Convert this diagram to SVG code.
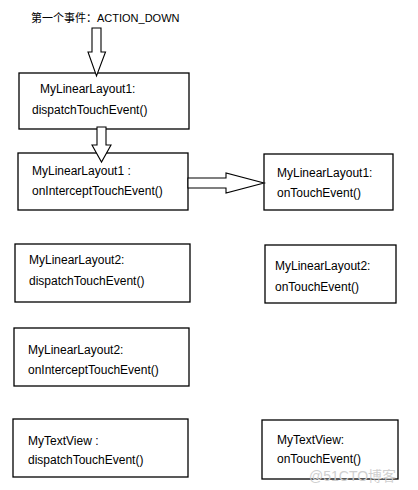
<svg xmlns="http://www.w3.org/2000/svg" width="418" height="490" viewBox="0 0 418 490">
<style>
.box{fill:#fff;stroke:#000;stroke-width:1.3}
.t{font-family:"Liberation Sans","Noto Sans CJK SC",sans-serif;font-size:12px;fill:#000}
.arr{fill:#fff;stroke:#000;stroke-width:1.1;stroke-linejoin:miter}
.wm{font-family:"Liberation Sans","Noto Sans CJK SC",sans-serif;font-size:14px;fill:#d0d0d0}
</style>
<rect width="418" height="490" fill="#fff"/>
<text class="t" x="31" y="22" style="font-size:11px">第一个事件：ACTION_DOWN</text>
<g id="n1"><rect class="box" x="19" y="73" width="170" height="56"/><text class="t" x="40" y="93">MyLinearLayout1:</text><text class="t" x="32" y="114">dispatchTouchEvent()</text></g>
<g id="n2"><rect class="box" x="18" y="153" width="170" height="57"/><text class="t" x="32" y="175">MyLinearLayout1 :</text><text class="t" x="32" y="195">onInterceptTouchEvent()</text></g>
<g id="n3"><rect class="box" x="264" y="154" width="129" height="56"/><text class="t" x="277" y="177">MyLinearLayout1:</text><text class="t" x="277" y="197">onTouchEvent()</text></g>
<g id="n4"><rect class="box" x="15" y="244" width="175" height="58"/><text class="t" x="29" y="264">MyLinearLayout2:</text><text class="t" x="29" y="285">dispatchTouchEvent()</text></g>
<g id="n5"><rect class="box" x="265" y="245" width="131" height="58"/><text class="t" x="275" y="270">MyLinearLayout2:</text><text class="t" x="275" y="291">onTouchEvent()</text></g>
<g id="n6"><rect class="box" x="14" y="328" width="175" height="58"/><text class="t" x="28" y="354">MyLinearLayout2:</text><text class="t" x="28" y="374">onInterceptTouchEvent()</text></g>
<g id="n7"><rect class="box" x="13" y="419" width="175" height="58"/><text class="t" x="28" y="445">MyTextView :</text><text class="t" x="28" y="464">dispatchTouchEvent()</text></g>
<g id="n8"><rect class="box" x="262" y="420" width="136" height="59"/><text class="t" x="277" y="444">MyTextView:</text><text class="t" x="277" y="463">onTouchEvent()</text></g>
<g id="connectors">
<polygon class="arr" points="92,28 101,28 101,52 105.5,52 96.5,76 88,52 92,52"/>
<polygon class="arr" points="97,127 106,127 106,145 111,145 101.5,162 92,145 97,145"/>
<polygon class="arr" points="188,178 226,178 226,173 264,183 226,193 226,188 188,188"/>
</g>
<text class="wm" x="309" y="481">@51CTO博客</text>
</svg>
